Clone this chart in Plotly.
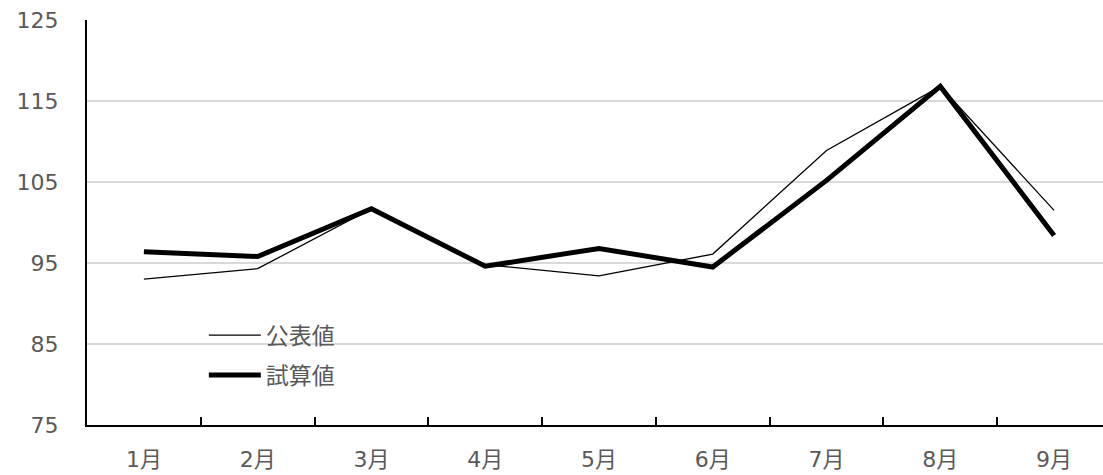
import plotly.graph_objects as go

months = ["1月", "2月", "3月", "4月", "5月", "6月", "7月", "8月", "9月"]
published = [93.0, 94.3, 101.7, 94.8, 93.4, 96.1, 108.9, 116.8, 101.5]
estimated = [96.4, 95.8, 101.7, 94.6, 96.8, 94.5, 105.2, 116.8, 98.4]
y_ticks = [75, 85, 95, 105, 115, 125]

label_font = dict(family="DejaVu Sans, Noto Sans CJK JP", size=22, color="#595959")

fig = go.Figure()
fig.add_trace(go.Scatter(
    x=months, y=published, name="公表値", mode="lines", legendgroup="a",
    line=dict(color="black", width=1.3),
))
fig.add_trace(go.Scatter(
    x=months, y=estimated, name="試算値", mode="lines", legendgroup="b",
    line=dict(color="black", width=5),
))

fig.update_layout(
    width=1103, height=475,
    margin=dict(l=87, r=0, t=20, b=50),
    plot_bgcolor="white", paper_bgcolor="white",
    font=label_font,
    showlegend=True,
    legend=dict(
        x=0.115, y=0.275, xanchor="left", yanchor="top",
        bgcolor="rgba(0,0,0,0)",
        font=dict(family="Noto Sans CJK JP", size=23, color="#595959"),
        itemwidth=52, tracegroupgap=7,
    ),
)
fig.update_xaxes(
    type="category", range=[-0.5, 8.43],
    showline=True, linecolor="black", linewidth=2,
    ticks="inside", tickson="boundaries", ticklen=8, tickwidth=2, tickcolor="black",
    showgrid=False, zeroline=False,
    ticklabelstandoff=14,
    tickfont=label_font,
)
fig.update_yaxes(
    range=[75, 125], tickvals=y_ticks,
    showline=True, linecolor="black", linewidth=2,
    showgrid=True, gridcolor="#d9d9d9", gridwidth=1.5,
    ticks="", zeroline=False,
    ticklabelstandoff=22,
    tickfont=label_font,
)

fig.write_html("out.html")
